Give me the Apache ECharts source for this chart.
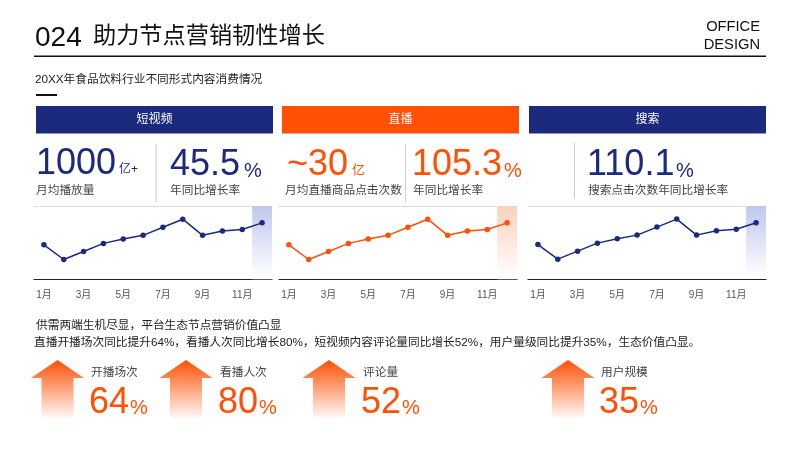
<!DOCTYPE html>
<html>
<head>
<meta charset="utf-8">
<style>
html, body { margin: 0; padding: 0; background: #fff; }
#chart { width: 800px; height: 450px; }
</style>
<script src="https://cdn.jsdelivr.net/npm/echarts@6/dist/echarts.min.js"></script>
</head>
<body>
<div id="chart"></div>
<script>
const months = ['1月', '2月', '3月', '4月', '5月', '6月', '7月', '8月', '9月', '10月', '11月', '12月'];
const shortVideoTrend = [47, 27, 38, 49, 55, 60, 71, 82, 60, 66, 68, 77];
const liveTrend = [47, 27, 38, 49, 55, 60, 71, 82, 60, 66, 68, 77];
const searchTrend = [47, 27, 38, 49, 55, 60, 71, 82, 60, 66, 68, 77];
const highlightBand = [null, null, null, null, null, null, null, null, null, null, null, 100];

const panelNames = ['短视频', '直播', '搜索'];
const kpiNames = ['开播场次', '看播人次', '评论量', '用户规模'];
const kpiValues = ['64', '80', '52', '35'];

const NAVY = '#1b2a7d';
const ORANGE = '#ff5005';
const FONT = '"Liberation Sans", "Noto Sans CJK SC", sans-serif';

function txt(x, y, text, size, color, align) {
    return {
        type: 'text', x: x, y: y, silent: true,
        style: {
            text: text, fontSize: size, fill: color, fontFamily: FONT,
            align: align || 'left', verticalAlign: 'middle'
        }
    };
}

function rect(x, y, w, h, color) {
    return { type: 'rect', silent: true, shape: { x: x, y: y, width: w, height: h }, style: { fill: color } };
}

function fade(from, to, stop) {
    return new echarts.graphic.LinearGradient(0, 0, 0, 1, [
        { offset: 0, color: from },
        { offset: stop, color: to },
        { offset: 1, color: to }
    ]);
}

function arrow(tipX) {
    return {
        type: 'polygon', silent: true,
        shape: {
            points: [[tipX, 360], [tipX + 26.5, 378], [tipX + 16, 378], [tipX + 16, 420],
                [tipX - 16, 420], [tipX - 16, 378], [tipX - 26.5, 378]]
        },
        style: { fill: fade(ORANGE, '#ffffff', 1) }
    };
}

let graphics = [
    txt(35, 38, '024', 28, '#111'),
    txt(93, 37, '助力节点营销韧性增长', 23.2, '#111'),
    txt(760, 27, 'OFFICE', 14.7, '#111', 'right'),
    txt(760, 45, 'DESIGN', 14.7, '#111', 'right'),
    rect(34, 55.5, 732, 1.5, '#111'),
    txt(35, 80, '20XX年食品饮料行业不同形式内容消费情况', 11.7, '#222'),
    rect(36, 94, 21, 2, '#111'),

    // panel headers
    rect(36, 106, 237, 27.5, NAVY),
    rect(282, 106, 237, 27.5, ORANGE),
    rect(529, 106, 237, 27.5, NAVY),
    txt(154.5, 120, panelNames[0], 12, '#fff', 'center'),
    txt(400.5, 120, panelNames[1], 12, '#fff', 'center'),
    txt(647.5, 120, panelNames[2], 12, '#fff', 'center'),

    // headline figures
    txt(36, 164, '1000', 36, NAVY),
    txt(119, 170, '亿+', 12, NAVY),
    txt(170, 165, '45.5', 36, NAVY),
    txt(244, 171, '%', 20, NAVY),
    txt(287, 165, '~30', 36, ORANGE),
    txt(352, 170, '亿', 13, ORANGE),
    txt(412, 165, '105.3', 36, ORANGE),
    txt(504, 171, '%', 20, ORANGE),
    txt(587, 165, '110.1', 36, NAVY),
    txt(676, 171, '%', 20, NAVY),
    txt(36, 191, '月均播放量', 11.7, '#444'),
    txt(170, 191, '年同比增长率', 11.7, '#444'),
    txt(285, 191, '月均直播商品点击次数', 11.7, '#444'),
    txt(413, 191, '年同比增长率', 11.7, '#444'),
    txt(588, 191, '搜索点击次数年同比增长率', 11.7, '#444'),
    rect(155.5, 144, 1.2, 58, '#cfcfcf'),
    rect(405, 144, 1, 58, '#cfcfcf'),
    rect(574, 143, 1, 56, '#cfcfcf'),

    // summary text
    txt(36, 326, '供需两端生机尽显，平台生态节点营销价值凸显', 11.7, '#222'),
    txt(34, 343, '直播开播场次同比提升64%，看播人次同比增长80%，短视频内容评论量同比增长52%，用户量级同比提升35%，生态价值凸显。', 11.7, '#222')
];

// bottom row: arrow, name, big figure
const kpiTips = [57.5, 186, 329, 568];
const kpiNameX = [91, 220, 363, 601];
const kpiNumX = [89, 218, 361, 599];
for (let i = 0; i < kpiNames.length; ++i) {
    graphics.push(arrow(kpiTips[i]));
    graphics.push(txt(kpiNameX[i], 373, kpiNames[i], 11.7, '#444'));
    graphics.push(txt(kpiNumX[i], 403, kpiValues[i], 36, ORANGE));
    graphics.push(txt(kpiNumX[i] + 41, 408, '%', 20, ORANGE));
}

const panels = [
    { left: 34, top: 206, bottom: 279.3, data: shortVideoTrend, color: NAVY, band: '#bfc7ec' },
    { left: 279, top: 206, bottom: 279.3, data: liveTrend, color: ORANGE, band: '#fbd0bc' },
    { left: 528, top: 206, bottom: 278.8, data: searchTrend, color: NAVY, band: '#bfc7ec' }
];

let option = {
    animation: false,
    backgroundColor: '#fff',
    graphic: { elements: graphics },
    grid: [],
    xAxis: [],
    yAxis: [],
    series: []
};

panels.forEach(function (p, idx) {
    option.grid.push({ left: p.left, top: p.top, width: 238, height: p.bottom - p.top });
    option.xAxis.push({
        type: 'category',
        gridIndex: idx,
        data: months,
        axisTick: { show: false },
        axisLine: { lineStyle: { color: '#222', width: 1.2 } },
        axisLabel: { interval: 1, fontSize: 10, color: '#555', margin: 11, fontFamily: FONT }
    });
    option.yAxis.push({
        type: 'value',
        gridIndex: idx,
        min: 0,
        max: 100,
        interval: 100,
        axisLine: { show: false },
        axisTick: { show: false },
        axisLabel: { show: false },
        splitLine: { lineStyle: { color: '#c4c4c4', type: 'dotted', width: 1 } }
    });
    option.series.push({
        type: 'bar',
        xAxisIndex: idx,
        yAxisIndex: idx,
        data: highlightBand,
        barWidth: '100%',
        silent: true,
        itemStyle: { color: fade(p.band, '#ffffff', 0.97) }
    });
    option.series.push({
        type: 'line',
        xAxisIndex: idx,
        yAxisIndex: idx,
        data: p.data,
        symbol: 'circle',
        symbolSize: 5.5,
        lineStyle: { color: p.color, width: 1.5 },
        itemStyle: { color: p.color }
    });
});

var myChart = echarts.init(document.getElementById('chart'));
myChart.setOption(option);
</script>
</body>
</html>
